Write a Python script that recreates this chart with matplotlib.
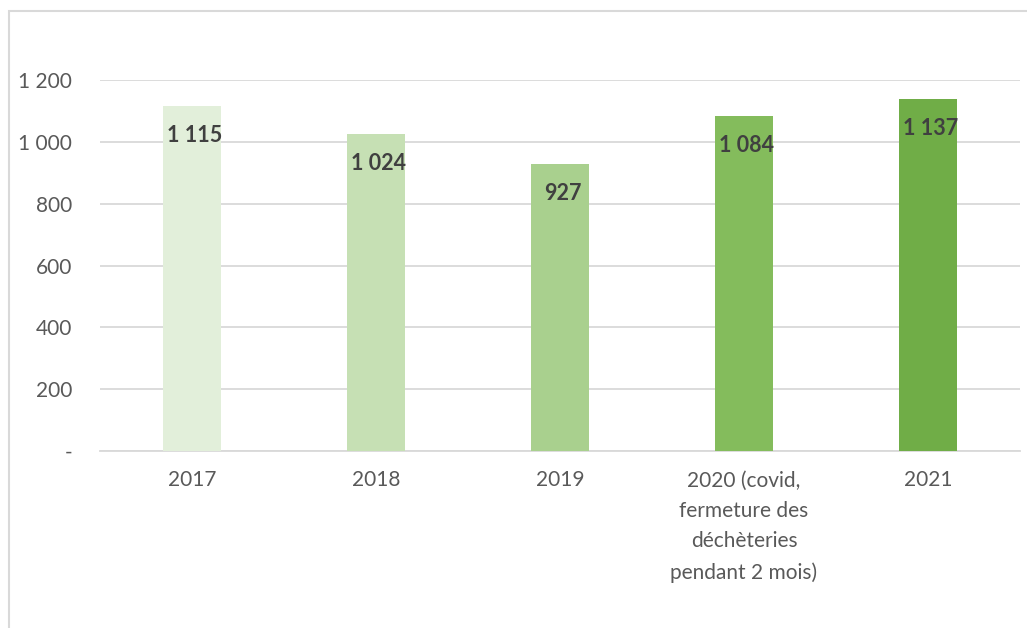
import matplotlib
matplotlib.use("Agg")
import matplotlib.pyplot as plt
from matplotlib.patches import Rectangle
from matplotlib.ticker import FuncFormatter

# data
categories = ["2017", "2018", "2019",
              "2020 (covid,\nfermeture des\ndéchèteries\npendant 2 mois)", "2021"]
values = [1115, 1024, 927, 1084, 1137]
bar_colors = ["#E2EFDA", "#C6E0B4", "#A9D08E", "#84BC5C", "#70AD47"]
y_ticks = [0, 200, 400, 600, 800, 1000, 1200]

plt.rcParams['font.family'] = ['Lato', 'DejaVu Sans']


def fmt_num(v, pos=None):
    if v == 0:
        return "-"
    return "{:,}".format(int(v)).replace(",", " ")


fig = plt.figure(figsize=(10.27, 6.28), dpi=100)
ax = fig.add_axes([100 / 1027, 1 - 451 / 628, 920 / 1027, 371 / 628])

x = list(range(len(categories)))
bars = ax.bar(x, values, width=0.315, color=bar_colors, zorder=3)

# labels inside the top of each bar
for b, v in zip(bars, values):
    ax.annotate(fmt_num(v), (b.get_x() + b.get_width() / 2, v),
                xytext=(2, -21), textcoords="offset points",
                ha="center", va="center", fontsize=15.5, fontweight="bold",
                color="#404040", zorder=4)

ax.set_xlim(-0.5, len(categories) - 0.5)
ax.set_ylim(0, 1200)
ax.set_yticks(y_ticks)
ax.yaxis.set_major_formatter(FuncFormatter(fmt_num))
ax.set_xticks(x)
ax.set_xticklabels(categories, linespacing=1.65)

ax.grid(axis="y", color="#D9D9D9", linewidth=1.3, zorder=0)
for s in ["top", "right", "left"]:
    ax.spines[s].set_visible(False)
ax.spines["bottom"].set_color("#D9D9D9")
ax.spines["bottom"].set_linewidth(1.3)
ax.tick_params(axis="both", length=0, labelsize=15, labelcolor="#595959")
ax.tick_params(axis="y", pad=20)
ax.tick_params(axis="x", pad=14)

# chart border (runs off the right and bottom edges)
fig.patches.append(Rectangle((9 / 1027, -0.05), 1.2, 1 - 11 / 628 + 0.05,
                             transform=fig.transFigure, fill=False,
                             edgecolor="#D9D9D9", linewidth=1.5))

fig.savefig("out.png", dpi=100)
